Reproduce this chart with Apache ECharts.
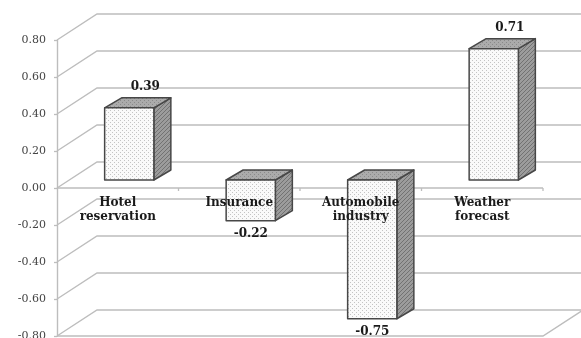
<!DOCTYPE html>
<html>
<head>
<meta charset="utf-8">
<title>3D bars</title>
<script src="https://cdn.jsdelivr.net/npm/echarts@6/dist/echarts.min.js"></script>
<style>
  html, body { margin: 0; padding: 0; background: #fff; }
  #main { width: 581px; height: 338px; }
</style>
</head>
<body>
<div id="main"></div>
<script>
// data
var categories = ['Hotel\nreservation', 'Insurance', 'Automobile\nindustry', 'Weather\nforecast'];
var values = [0.39, -0.22, -0.75, 0.71];
var yTicks = [-0.8, -0.6, -0.4, -0.2, 0, 0.2, 0.4, 0.6, 0.8];

// fake 3D depth (pixels)
var WALL_DX = 40, WALL_DY = -26;   // back wall offset
var BAR_DX = 11.5, BAR_DY = -8;    // bar front face offset
var SIDE_DX = 17, SIDE_DY = -10;   // bar thickness

var GRID_COLOR = '#bdbdbd';
var EDGE_COLOR = '#474747';

// small pattern tiles for the bar faces
function makeTile(bg, fg, kind) {
  var c = document.createElement('canvas');
  c.width = 4; c.height = 4;
  var g = c.getContext('2d');
  g.fillStyle = bg;
  g.fillRect(0, 0, 4, 4);
  g.fillStyle = fg;
  if (kind === 'dots') {
    g.fillRect(0, 0, 1, 1);
    g.fillRect(2, 2, 1, 1);
  } else {
    for (var k = 0; k < 4; k++) g.fillRect(k, 3 - k, 1, 1);
  }
  return c;
}
var frontFill = { image: makeTile('#fafafa', '#c4c4c4', 'dots'), repeat: 'repeat' };
var topFill = { image: makeTile('#ababab', '#8a8a8a', 'dots'), repeat: 'repeat' };
var sideFill = { image: makeTile('#9c9c9c', '#727272', 'hatch'), repeat: 'repeat' };

var myChart = echarts.init(document.getElementById('main'));

// back wall + floor lines
function renderWall(params, api) {
  var v = api.value(0);
  var y = api.coord([0, v])[1];
  var x0 = params.coordSys.x;
  var w = params.coordSys.width;
  var kids = [{
    type: 'polyline',
    shape: { points: [[x0, y], [x0 + WALL_DX, y + WALL_DY], [x0 + w + WALL_DX, y + WALL_DY]] },
    style: { fill: null, stroke: GRID_COLOR, lineWidth: 1.4 }
  }];
  if (v === yTicks[0] || v === 0) {
    // floor front edge / category line on the front plane
    var pts = [[x0, y], [x0 + w, y]];
    if (v === yTicks[0]) pts.push([x0 + w + WALL_DX, y + WALL_DY]);
    kids.push({
      type: 'polyline',
      shape: { points: pts },
      style: { fill: null, stroke: GRID_COLOR, lineWidth: 1.4 }
    });
  }
  if (v === 0) {
    // category boundary ticks under the zero line
    var step = w / categories.length;
    for (var k = 1; k <= categories.length; k++) {
      kids.push({
        type: 'line',
        shape: { x1: x0 + step * k, y1: y, x2: x0 + step * k, y2: y + 3 },
        style: { stroke: GRID_COLOR, lineWidth: 1.3 }
      });
    }
  }
  return { type: 'group', children: kids };
}

// category names under the zero line
function renderCatLabel(params, api) {
  var p = api.coord([api.value(0), 0]);
  return {
    type: 'text',
    x: p[0],
    y: p[1] + 8,
    style: {
      text: categories[params.dataIndex],
      align: 'center',
      verticalAlign: 'top',
      font: 'bold 12px "DejaVu Serif"',
      lineHeight: 14,
      fill: '#1a1a1a'
    }
  };
}

function renderBar(params, api) {
  var i = api.value(0), v = api.value(1);
  var base = api.coord([i, 0]);
  var end = api.coord([i, v]);
  var bw = api.size([1, 0])[0] * 0.405;
  var cx = base[0] + BAR_DX;
  var xl = cx - bw / 2, xr = cx + bw / 2;
  var y1 = base[1] + BAR_DY, y2 = end[1] + BAR_DY;
  var top = Math.min(y1, y2), bot = Math.max(y1, y2);
  var edge = { stroke: EDGE_COLOR, lineWidth: 1.5, lineJoin: 'round' };
  var label = v >= 0
    ? { x: cx + 16, y: top - 21 }
    : { x: cx, y: bot + 13 };
  return {
    type: 'group',
    children: [
      {
        type: 'polygon',
        shape: { points: [[xr, top], [xr + SIDE_DX, top + SIDE_DY], [xr + SIDE_DX, bot + SIDE_DY], [xr, bot]] },
        style: Object.assign({ fill: sideFill }, edge)
      },
      {
        type: 'polygon',
        shape: { points: [[xl, top], [xl + SIDE_DX, top + SIDE_DY], [xr + SIDE_DX, top + SIDE_DY], [xr, top]] },
        style: Object.assign({ fill: topFill }, edge)
      },
      {
        type: 'rect',
        shape: { x: xl, y: top, width: bw, height: bot - top },
        style: Object.assign({ fill: frontFill }, edge)
      },
      {
        type: 'text',
        x: label.x,
        y: label.y,
        style: {
          text: v.toFixed(2),
          align: 'center',
          verticalAlign: 'middle',
          font: 'bold 12px "DejaVu Serif"',
          fill: '#1a1a1a'
        }
      }
    ]
  };
}

var option = {
  animation: false,
  backgroundColor: '#fff',
  grid: { left: 57, top: 40, width: 486, height: 296, outerBoundsMode: 'none', containLabel: false },
  xAxis: {
    type: 'category',
    data: categories,
    axisLine: { show: false },
    axisTick: { show: false },
    axisLabel: { show: false },
    splitLine: { show: false }
  },
  yAxis: {
    type: 'value',
    min: -0.8,
    max: 0.8,
    interval: 0.2,
    axisLine: { show: true, lineStyle: { color: GRID_COLOR, width: 1.4 } },
    axisTick: { show: true, length: 3, lineStyle: { color: GRID_COLOR, width: 1.3 } },
    axisLabel: {
      margin: 11,
      fontFamily: 'DejaVu Serif',
      fontSize: 11,
      color: '#444',
      formatter: function (v) {
        if (Math.abs(v) < 1e-9) return '0.00';
        return v.toFixed(2);
      }
    },
    splitLine: { show: false }
  },
  series: [
    {
      type: 'custom',
      z: 1,
      silent: true,
      clip: false,
      renderItem: renderWall,
      data: yTicks.map(function (t) { return [t]; })
    },
    {
      type: 'custom',
      z: 3,
      clip: false,
      renderItem: renderBar,
      data: values.map(function (v, i) { return [i, v]; })
    },
    {
      type: 'custom',
      z: 5,
      silent: true,
      clip: false,
      renderItem: renderCatLabel,
      data: categories.map(function (c, i) { return [i]; })
    }
  ]
};

myChart.setOption(option);
</script>
</body>
</html>
